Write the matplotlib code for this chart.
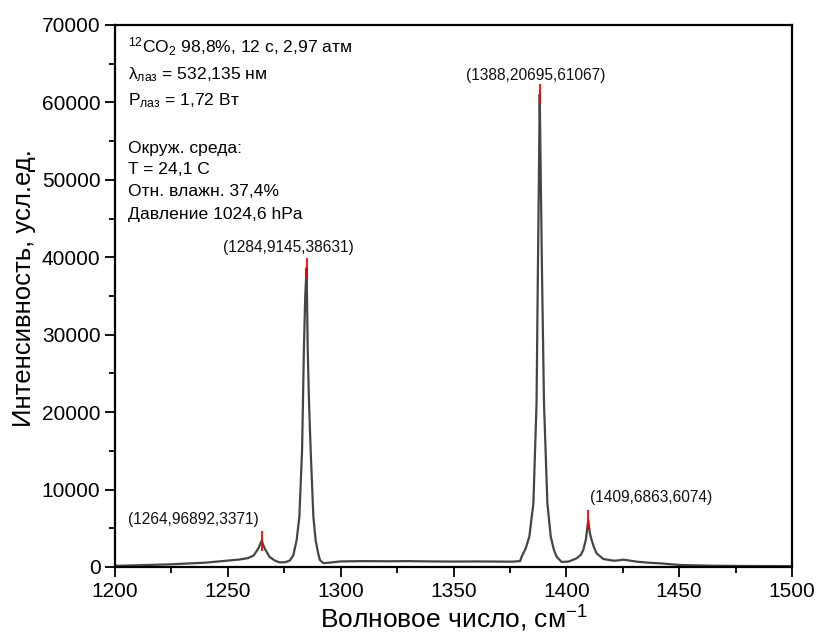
import matplotlib
matplotlib.use("Agg")
import matplotlib.pyplot as plt
from matplotlib.ticker import MultipleLocator

plt.rcParams['font.family'] = ['Liberation Sans', 'DejaVu Sans']
plt.rcParams['mathtext.fontset'] = 'custom'
plt.rcParams['mathtext.rm'] = 'Liberation Sans'
plt.rcParams['mathtext.it'] = 'Liberation Sans'

# spectrum (wavenumber, intensity)
wn = [1200, 1210, 1225, 1240, 1249, 1255, 1259, 1261.5, 1263.5, 1264.97,
      1266.5, 1268.5, 1271, 1273, 1275.5, 1277.5, 1279, 1280.5, 1281.7, 1282.9,
      1283.7, 1284.3, 1284.91, 1285.4, 1286.0, 1286.7, 1287.9, 1288.9, 1290.0,
      1290.8, 1292.3, 1295, 1300, 1310, 1320, 1330, 1340, 1350, 1360, 1370,
      1376, 1379.5, 1380.2, 1382, 1383.6, 1385.4, 1386.8, 1387.4, 1387.9,
      1388.21, 1388.6, 1389.2, 1390.1, 1391.6, 1393.1, 1394.5, 1395.7, 1397.9,
      1401, 1404.6, 1406.5, 1407.5, 1408.7, 1409.69, 1410.4, 1411.2, 1412.3,
      1413.4, 1416.4, 1420.8, 1423, 1425.3, 1428, 1431.2, 1436, 1441.5, 1450.4,
      1463.7, 1480, 1500]
inten = [150, 220, 350, 560, 800, 960, 1150, 1500, 2400, 3371,
         2300, 1300, 800, 600, 620, 850, 1500, 3490, 6500, 15110,
         28025, 35000, 38631, 28000, 21000, 15110, 6500, 3490, 1800,
         900, 500, 560, 720, 760, 740, 760, 720, 700, 720, 700,
         690, 760, 1330, 2400, 3910, 8220, 21130, 38360, 52000,
         61067, 52000, 38360, 21130, 8220, 3910, 2200, 1330, 650,
         700, 1120, 1600, 2200, 3600, 6074, 4400, 3490, 2500,
         1770, 1030, 815, 850, 945, 830, 690, 560, 475, 260,
         170, 130, 110]

peak_x = [1264.96892, 1284.9145, 1388.20695, 1409.6863]
peak_y = [3371, 38631, 61067, 6074]
peak_lbl = ['(1264,96892,3371)', '(1284,9145,38631)',
            '(1388,20695,61067)', '(1409,6863,6074)']

info = ['$\\mathregular{^{12}}$CO$\\mathregular{_2}$ 98,8%, 12 с, 2,97 атм',
        'λ$\\mathregular{_{лаз}}$ = 532,135 нм',
        'P$\\mathregular{_{лаз}}$ = 1,72 Вт',
        '',
        'Окруж. среда:',
        'T = 24,1 C',
        'Отн. влажн. 37,4%',
        'Давление 1024,6 hPa']

fig = plt.figure(figsize=(8.17, 6.33), dpi=100)
ax = fig.add_axes([115 / 817, 1 - 567 / 633, 677 / 817, 542 / 633])

ax.plot(wn, inten, color='#454545', lw=1.6, zorder=2)
ax.plot(peak_x, peak_y, ls='none', marker='|', ms=14, mew=1.3,
        color='#ff0000', zorder=3)

# label placement (offset in points, alignment)
offs = [(-2, 10, 'right'), (-13, 9, 'center'), (-3, 8, 'center'), (1, 11, 'left')]
for px, py, t, (dx, dy, ha) in zip(peak_x, peak_y, peak_lbl, offs):
    ax.annotate(t, (px, py), xytext=(dx, dy), textcoords='offset points',
                ha=ha, va='bottom', fontsize=11.2, color='#111111')

ys = [47, 75, 101, 124, 148, 170, 192, 214]
for s, yy in zip(info, ys):
    if s:
        ax.text((128 - 115) / 677, (567 - yy) / 542, s, transform=ax.transAxes,
                ha='left', va='center', fontsize=12.6)

ax.set_xlim(1200, 1500)
ax.set_ylim(0, 70000)
ax.xaxis.set_major_locator(MultipleLocator(50))
ax.xaxis.set_minor_locator(MultipleLocator(25))
ax.yaxis.set_major_locator(MultipleLocator(10000))
ax.yaxis.set_minor_locator(MultipleLocator(5000))
ax.tick_params(which='both', direction='out', width=1.3, labelsize=15,
               top=False, right=False)
ax.tick_params(which='major', length=7)
ax.tick_params(which='minor', length=4)
for sp in ax.spines.values():
    sp.set_linewidth(1.6)

ax.set_xlabel('Волновое число, см$\\mathregular{^{-1}}$', fontsize=19, labelpad=2)
ax.set_ylabel('Интенсивность, усл.ед.', fontsize=18.5)
ax.yaxis.set_label_coords(-0.117, 0.515)

fig.savefig('out.png', dpi=100)
